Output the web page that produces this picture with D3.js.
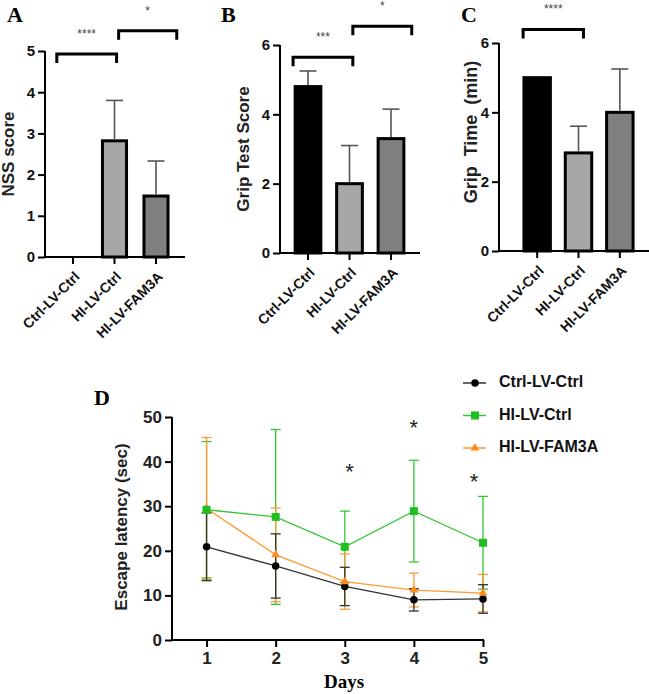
<!DOCTYPE html>
<html><head><meta charset="utf-8">
<script src="https://cdn.jsdelivr.net/npm/d3@7"></script>
<style>
html,body{margin:0;padding:0;background:#fff;}
svg{display:block;}
text{font-family:"Liberation Sans",Arial,sans-serif;}
.serif{font-family:"Liberation Serif","Times New Roman",serif;font-weight:bold;}
</style></head>
<body>
<svg id="chart" width="649" height="694"></svg>
<script>
// ---------- DATA ----------
const barCategories = ["Ctrl-LV-Ctrl", "HI-LV-Ctrl", "HI-LV-FAM3A"];
const barFills = ["#000000", "#a7a7a9", "#7f7f7f"];

const nssMean = [0, 2.82, 1.48];
const nssSD   = [0, 0.98, 0.85];
const nssTicks = [0, 1, 2, 3, 4, 5];

const gripScoreMean = [4.8, 2.0, 3.3];
const gripScoreSD   = [0.45, 1.1, 0.85];
const gripScoreTicks = [0, 2, 4, 6];

const gripTimeMean = [5.0, 2.83, 4.0];
const gripTimeSD   = [0, 0.77, 1.25];
const gripTimeTicks = [0, 2, 4, 6];

// significance brackets: [fromIndex, toIndex, yValue, label]
const nssSig = [[-0.39, 1.05, 4.93, "****"], [1.1, 2.5, 5.49, "*"]];
const gripScoreSig = [[-0.36, 1.08, 5.65, "***"], [1.08, 2.5, 6.54, "*"]];
const gripTimeSig = [[-0.34, 1.12, 6.39, "****"]];

const days = [1, 2, 3, 4, 5];
const dayTicks = [1, 2, 3, 4, 5];
const latencyTicks = [0, 10, 20, 30, 40, 50];
const seriesNames = ["Ctrl-LV-Ctrl", "HI-LV-Ctrl", "HI-LV-FAM3A"];
const ctrlMean  = [20.9, 16.6, 12.0, 9.0, 9.2];
const ctrlSD    = [7.6, 7.2, 4.3, 2.5, 3.2];
const hiMean    = [29.2, 27.6, 20.9, 28.9, 21.8];
const hiSD      = [15.3, 19.6, 8.0, 11.4, 10.4];
const famMean   = [29.5, 19.1, 13.1, 11.2, 10.5];
const famSD     = [15.9, 10.5, 6.2, 3.8, 4.2];
// asterisks: [day, yValue]
const latencyStars = [[3.07, 38.8], [4, 48.7], [4.87, 36.5]];

// ---------- DRAW ----------
const svg = d3.select("#chart");
svg.append("rect").attr("width", 649).attr("height", 694).attr("fill", "#fff");
const FONT = "Liberation Sans, Arial, sans-serif";

function barPanel(o) {
  const g = svg.append("g");
  const x = d3.scaleBand().domain(barCategories).range([o.x0, o.x1])
    .paddingInner(o.pad).paddingOuter(o.pad / 2);
  const y = d3.scaleLinear().domain([0, o.ymax]).range([o.yb, o.yt]);
  const step = x.step();
  const cx = i => x(barCategories[0]) + x.bandwidth() / 2 + i * step;

  g.selectAll("rect.bar").data(o.mean).join("rect")
    .attr("x", (d, i) => x(barCategories[i]))
    .attr("width", x.bandwidth())
    .attr("y", d => y(d))
    .attr("height", d => y(0) - y(d))
    .attr("fill", (d, i) => barFills[i])
    .attr("stroke", "#000").attr("stroke-width", 3)
    .attr("display", d => d > 0 ? null : "none");
  o.mean.forEach((m, i) => {
    if (o.sd[i] <= 0) return;
    const c = x(barCategories[i]) + x.bandwidth() / 2;
    g.append("line").attr("x1", c).attr("x2", c).attr("y1", y(m) - 1.5).attr("y2", y(m + o.sd[i]))
      .attr("stroke", "#555").attr("stroke-width", 1.6);
    g.append("line").attr("x1", c - 8.5).attr("x2", c + 8.5).attr("y1", y(m + o.sd[i])).attr("y2", y(m + o.sd[i]))
      .attr("stroke", "#555").attr("stroke-width", 1.6);
  });

  const ya = g.append("g").attr("transform", `translate(${o.ax},0)`)
    .call(d3.axisLeft(y).tickValues(o.ticks).tickFormat(d3.format("d")).tickSize(7).tickPadding(3));
  ya.select(".domain").remove();
  ya.selectAll(".tick line").attr("stroke", "#000").attr("stroke-width", 2);
  ya.selectAll(".tick text").attr("font-size", 15).attr("font-weight", "bold").attr("fill", "#111")
    .attr("font-family", FONT);
  g.append("line").attr("x1", o.ax).attr("x2", o.ax).attr("y1", o.yt).attr("y2", o.yb + 1)
    .attr("stroke", "#000").attr("stroke-width", 2);

  const xa = g.append("g").attr("transform", `translate(0,${o.yb})`)
    .call(d3.axisBottom(x).tickSize(7));
  xa.select(".domain").remove();
  xa.selectAll(".tick line").attr("stroke", "#000").attr("stroke-width", 2);
  xa.selectAll(".tick text")
    .attr("font-size", 14).attr("font-weight", "bold").attr("fill", "#111")
    .attr("font-family", FONT)
    .attr("text-anchor", "end").attr("dy", null).attr("y", 0)
    .attr("transform", "translate(5,18) rotate(-45)")
    .attr("dominant-baseline", "middle");
  g.append("line").attr("x1", o.ax - 1).attr("x2", o.xend).attr("y1", o.yb).attr("y2", o.yb)
    .attr("stroke", "#000").attr("stroke-width", 2);

  g.append("text")
    .attr("transform", `translate(${o.labX},${o.labY}) rotate(-90)`)
    .attr("text-anchor", "middle").attr("dominant-baseline", "middle")
    .attr("font-size", o.labSize).attr("font-weight", "bold").attr("fill", "#222")
    .text(o.label);

  g.append("text").attr("class", "serif").attr("x", o.letterX).attr("y", 22)
    .attr("font-size", 22).attr("fill", "#000").text(o.letter);

  o.sig.forEach(([a, b, v, lab]) => {
    const x1 = cx(a), x2 = cx(b), yy = y(v), leg = 9;
    g.append("path").attr("d", `M${x1},${yy + leg}V${yy}H${x2}V${yy + leg}`)
      .attr("fill", "none").attr("stroke", "#000").attr("stroke-width", 3);
    g.append("text").attr("x", (x1 + x2) / 2).attr("y", yy - 16)
      .attr("text-anchor", "middle").attr("font-size", 12).attr("fill", "#444")
      .text(lab);
  });
}

barPanel({x0: 52.25, x1: 176.75, pad: 0.42, yb: 257, yt: 51, ymax: 5, ax: 45, xend: 185,
  mean: nssMean, sd: nssSD, ticks: nssTicks, label: "NSS score", labX: 10, labY: 154, labSize: 17,
  letter: "A", letterX: 7, sig: nssSig});
barPanel({x0: 287.25, x1: 411.75, pad: 0.38, yb: 253, yt: 45, ymax: 6, ax: 280, xend: 420,
  mean: gripScoreMean, sd: gripScoreSD, ticks: gripScoreTicks, label: "Grip Test Score", labX: 245, labY: 149, labSize: 17,
  letter: "B", letterX: 221, sig: gripScoreSig});
barPanel({x0: 516.5, x1: 640.5, pad: 0.36, yb: 251, yt: 43, ymax: 6, ax: 499, xend: 649,
  mean: gripTimeMean, sd: gripTimeSD, ticks: gripTimeTicks, label: "Grip\u00a0 Time\u00a0 (min)", labX: 472, labY: 132, labSize: 18,
  letter: "C", letterX: 461, sig: gripTimeSig});

// ---------- PANEL D ----------
const gd = svg.append("g");
const xD = d3.scaleLinear().domain([0.5, 5]).range([172, 483]);
const yD = d3.scaleLinear().domain([0, 50]).range([640, 417]);

const series = [
  {name: seriesNames[1], mean: hiMean, sd: hiSD, color: "#33c633", mcolor: "#1fbf1f", shape: d3.symbolSquare, size: 64},
  {name: seriesNames[2], mean: famMean, sd: famSD, color: "#ff9a33", mcolor: "#ff8c1a", shape: d3.symbolTriangle, size: 34},
  {name: seriesNames[0], mean: ctrlMean, sd: ctrlSD, color: "#333333", mcolor: "#000000", shape: d3.symbolCircle, size: 44}
];

series.forEach(s => {
  days.forEach((d, i) => {
    const cx = xD(d), t = yD(s.mean[i] + s.sd[i]), b = yD(Math.max(0, s.mean[i] - s.sd[i]));
    gd.append("line").attr("x1", cx).attr("x2", cx).attr("y1", t).attr("y2", b)
      .attr("stroke", s.color).attr("stroke-width", 1.3);
    [t, b].forEach(yy => gd.append("line").attr("x1", cx - 5).attr("x2", cx + 5).attr("y1", yy).attr("y2", yy)
      .attr("stroke", s.color).attr("stroke-width", 1.3));
  });
  gd.append("path").datum(s.mean)
    .attr("d", d3.line().x((v, i) => xD(days[i])).y(v => yD(v)))
    .attr("fill", "none").attr("stroke", s.color).attr("stroke-width", 1.3);
});
[series[2], series[1], series[0]].forEach(s => {
  gd.selectAll(null).data(s.mean).join("path")
    .attr("transform", (v, i) => `translate(${xD(days[i])},${yD(v)})`)
    .attr("d", d3.symbol().type(s.shape).size(s.size))
    .attr("fill", s.mcolor);
});

const yaD = gd.append("g").attr("transform", "translate(172,0)")
  .call(d3.axisLeft(yD).tickValues(latencyTicks).tickFormat(d3.format("d")).tickSize(7).tickPadding(3));
yaD.select(".domain").remove();
yaD.selectAll(".tick line").attr("stroke", "#000").attr("stroke-width", 2);
yaD.selectAll(".tick text").attr("font-size", 17).attr("font-weight", "bold").attr("fill", "#222")
  .attr("font-family", FONT);
gd.append("line").attr("x1", 172).attr("x2", 172).attr("y1", 417).attr("y2", 641)
  .attr("stroke", "#000").attr("stroke-width", 2);

const xaD = gd.append("g").attr("transform", "translate(0,640)")
  .call(d3.axisBottom(xD).tickValues(dayTicks).tickFormat(d3.format("d")).tickSize(7).tickPadding(5));
xaD.select(".domain").remove();
xaD.selectAll(".tick line").attr("stroke", "#000").attr("stroke-width", 2);
xaD.selectAll(".tick text").attr("font-size", 17).attr("font-weight", "bold").attr("fill", "#222")
  .attr("font-family", FONT);
gd.append("line").attr("x1", 171).attr("x2", 484).attr("y1", 640).attr("y2", 640)
  .attr("stroke", "#000").attr("stroke-width", 2);

gd.append("text").attr("transform", "translate(123,527) rotate(-90)")
  .attr("text-anchor", "middle").attr("dominant-baseline", "middle")
  .attr("font-size", 17).attr("font-weight", "bold").attr("fill", "#222")
  .text("Escape latency (sec)");
gd.append("text").attr("class", "serif").attr("x", 344).attr("y", 688)
  .attr("text-anchor", "middle").attr("font-size", 19).attr("fill", "#000").text("Days");
gd.append("text").attr("class", "serif").attr("x", 94).attr("y", 405)
  .attr("font-size", 22).attr("fill", "#000").text("D");

latencyStars.forEach(([d, v]) => {
  gd.append("text").attr("x", xD(d)).attr("y", yD(v) + 12).attr("text-anchor", "middle")
    .attr("font-size", 22).attr("fill", "#222").text("*");
});

const legendRows = [series[2], series[0], series[1]];
legendRows.forEach((s, i) => {
  const yy = 383 + i * 32.5;
  gd.append("line").attr("x1", 463).attr("x2", 486).attr("y1", yy).attr("y2", yy)
    .attr("stroke", s.color).attr("stroke-width", 1.5);
  gd.append("path").attr("transform", `translate(475,${yy})`)
    .attr("d", d3.symbol().type(s.shape).size(s.size)).attr("fill", s.mcolor);
  gd.append("text").attr("x", 499).attr("y", yy).attr("dominant-baseline", "middle")
    .attr("font-size", 16).attr("font-weight", "bold").attr("fill", "#111").text(s.name);
});
</script>
</body></html>
